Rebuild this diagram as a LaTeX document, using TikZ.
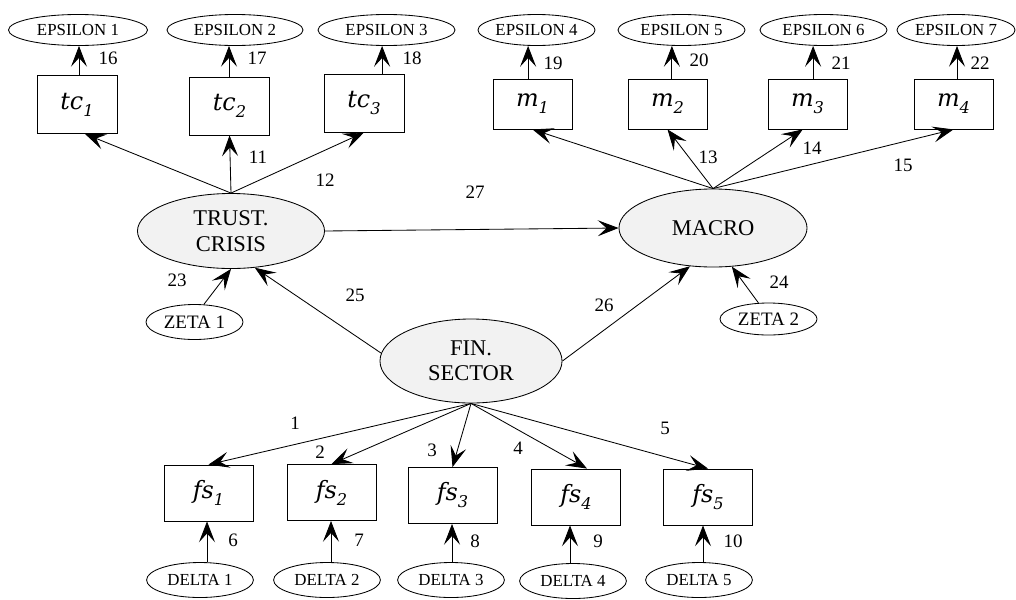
\documentclass[tikz,border=0pt]{standalone}
\usepackage{fontspec}
\setmainfont{Liberation Serif}
\newfontfamily\varfont{DejaVu Serif}
\usetikzlibrary{shapes.geometric,arrows.meta}
\tikzset{
    item-box/.style = {draw, line width=0.6pt, rectangle, minimum width=2cm, minimum height=1.45cm, inner sep=0pt},
    error-oval/.style = {draw, line width=0.6pt, ellipse, inner sep=0pt, minimum width=3.3cm, minimum height=0.775cm, font=\fontsize{12}{14}\selectfont},
    factor-oval/.style = {draw, line width=0.6pt, fill=gray!10, ellipse, inner sep=0pt, minimum width=4.5cm, minimum height=1.9cm, align=center, font=\fontsize{16}{18}\selectfont},
    path-arrow/.style = {-{Stealth[length=5.2mm,width=4mm,inset=2.2mm]}, line width=0.6pt},
    coef/.style = {font=\fontsize{13.5}{15}\selectfont, inner sep=1pt},
}
\newcommand{\varsub}[2]{{\fontsize{17}{19}\selectfont\varfont\itshape #1}\raisebox{-5pt}{\fontsize{11.5}{12}\selectfont\varfont\itshape #2}}

\begin{document}
\begin{tikzpicture}[x=0.025cm, y=-0.025cm]
\useasboundingbox (0,0) rectangle (1016,599);

% latent factors
\node [factor-oval, minimum width=4.675cm, minimum height=1.875cm] (trust) at (231,231) {TRUST.\\CRISIS};
\node [factor-oval, minimum width=4.7cm, minimum height=1.95cm] (macro) at (713,228) {MACRO};
\node [factor-oval, minimum width=4.55cm, minimum height=2.1cm] (fin) at (471,361) {FIN.\\SECTOR};

% indicators
\node [item-box] (tc1) at (77,104.5) {\varsub{tc}{1}};
\node [item-box] (tc2) at (229.5,106) {\varsub{tc}{2}};
\node [item-box] (tc3) at (364,103) {\varsub{tc}{3}};
\node [item-box, minimum width=1.975cm, minimum height=1.25cm] (m1) at (532.5,104) {\varsub{m}{1}};
\node [item-box, minimum width=1.975cm, minimum height=1.25cm] (m2) at (667.5,104) {\varsub{m}{2}};
\node [item-box, minimum width=1.975cm, minimum height=1.25cm] (m3) at (807.5,104) {\varsub{m}{3}};
\node [item-box, minimum width=1.975cm, minimum height=1.25cm] (m4) at (953.5,104) {\varsub{m}{4}};
\node [item-box, minimum width=2.225cm, minimum height=1.4cm] (fs1) at (208.5,493) {\varsub{fs}{1}};
\node [item-box, minimum width=2.225cm, minimum height=1.4cm] (fs2) at (331.5,492.5) {\varsub{fs}{2}};
\node [item-box, minimum width=2.225cm, minimum height=1.4cm] (fs3) at (452.5,495.5) {\varsub{fs}{3}};
\node [item-box, minimum width=2.225cm, minimum height=1.4cm] (fs4) at (576,497) {\varsub{fs}{4}};
\node [item-box, minimum width=2.225cm, minimum height=1.4cm] (fs5) at (708,497) {\varsub{fs}{5}};

% error terms
\node [error-oval, minimum width=3.475cm] (eps1) at (78,30) {EPSILON 1};
\node [error-oval, minimum width=3.4cm] (eps2) at (235,30) {EPSILON 2};
\node [error-oval, minimum width=3.425cm] (eps3) at (386.5,30) {EPSILON 3};
\node [error-oval, minimum width=2.925cm] (eps4) at (536.5,30) {EPSILON 4};
\node [error-oval, minimum width=3.175cm] (eps5) at (681.5,30) {EPSILON 5};
\node [error-oval, minimum width=3.175cm] (eps6) at (823.5,30) {EPSILON 6};
\node [error-oval, minimum width=2.95cm] (eps7) at (956,30) {EPSILON 7};
\node [error-oval, minimum width=2.425cm, minimum height=0.875cm, font=\fontsize{13.5}{15}\selectfont] (zeta1) at (194.5,322) {ZETA 1};
\node [error-oval, minimum width=2.425cm, minimum height=0.8cm, font=\fontsize{13.5}{15}\selectfont] (zeta2) at (768.5,319) {ZETA 2};
\node [error-oval, minimum width=2.67cm, minimum height=0.875cm] (delta1) at (200,580) {DELTA 1};
\node [error-oval, minimum width=2.67cm, minimum height=0.875cm] (delta2) at (327,580) {DELTA 2};
\node [error-oval, minimum width=2.67cm, minimum height=0.875cm] (delta3) at (451,580) {DELTA 3};
\node [error-oval, minimum width=2.67cm, minimum height=0.875cm] (delta4) at (573,581) {DELTA 4};
\node [error-oval, minimum width=2.67cm, minimum height=0.875cm] (delta5) at (699,580) {DELTA 5};

% structural paths
\draw [path-arrow] (fin.south) -- (fs1.north);
\draw [path-arrow] (fin.south) -- (fs2.north);
\draw [path-arrow] (fin.south) -- (fs3.north);
\draw [path-arrow] (fin.south) -- ([xshift=0.275cm]fs4.north);
\draw [path-arrow] (fin.south) -- (fs5.north);
\draw [path-arrow] (trust.north) -- ([xshift=0.2cm]tc1.south);
\draw [path-arrow] (trust.north) -- (tc2.south);
\draw [path-arrow] (trust.north) -- (tc3.south);
\draw [path-arrow] (macro.north) -- (m1.south);
\draw [path-arrow] (macro.north) -- (m2.south);
\draw [path-arrow] (macro.north) -- ([xshift=-0.12cm]m3.south);
\draw [path-arrow] (macro.north) -- (m4.south);
\draw [path-arrow] (trust.east) -- (macro.west);
\draw [path-arrow] (fin.175) -- (trust.303);
\draw [path-arrow] (fin.east) -- (macro.239);
\draw [path-arrow] (zeta1.62) -- (trust.south);
\draw [path-arrow] (zeta2.122) -- (macro.296);

% error paths
\foreach \i/\s in {1/0.175,2/0.1,3/0.025,4/-0.075,5/0.1} {
    \coordinate (d\i) at ([xshift=\s cm]delta\i.north);
    \draw [path-arrow] (d\i) -- (d\i |- fs\i.south);
}
\foreach \i/\b/\s in {1/tc1/0.025,2/tc2/-0.15,3/tc3/-0.11,4/m1/-0.21,5/m2/-0.24,6/m3/-0.26,7/m4/0.025} {
    \coordinate (e\i) at ([xshift=\s cm]eps\i.south);
    \draw [path-arrow] (e\i |- \b.north) -- (e\i);
}

% coefficient labels
\node [coef] (l1) at (295,423) {1};
\node [coef] (l2) at (320,452) {2};
\node [coef] (l3) at (432,450) {3};
\node [coef] (l4) at (518,448) {4};
\node [coef] (l5) at (665,428) {5};
\node [coef] (l6) at (233,540) {6};
\node [coef] (l7) at (359,540) {7};
\node [coef] (l8) at (475,541) {8};
\node [coef] (l9) at (598,541) {9};
\node [coef] (l10) at (733,541) {10};
\node [coef] (l11) at (258,157) {11};
\node [coef] (l12) at (325,180) {12};
\node [coef] (l13) at (708,157) {13};
\node [coef] (l14) at (812,148) {14};
\node [coef] (l15) at (903,165) {15};
\node [coef] (l16) at (108,58) {16};
\node [coef] (l17) at (257,58) {17};
\node [coef] (l18) at (412,58) {18};
\node [coef] (l19) at (553,63) {19};
\node [coef] (l20) at (699,60) {20};
\node [coef] (l21) at (841,63) {21};
\node [coef] (l22) at (980,63) {22};
\node [coef] (l23) at (177,280) {23};
\node [coef] (l24) at (779,282) {24};
\node [coef] (l25) at (355,295) {25};
\node [coef] (l26) at (604,305) {26};
\node [coef] (l27) at (475,192) {27};
\end{tikzpicture}
\end{document}
